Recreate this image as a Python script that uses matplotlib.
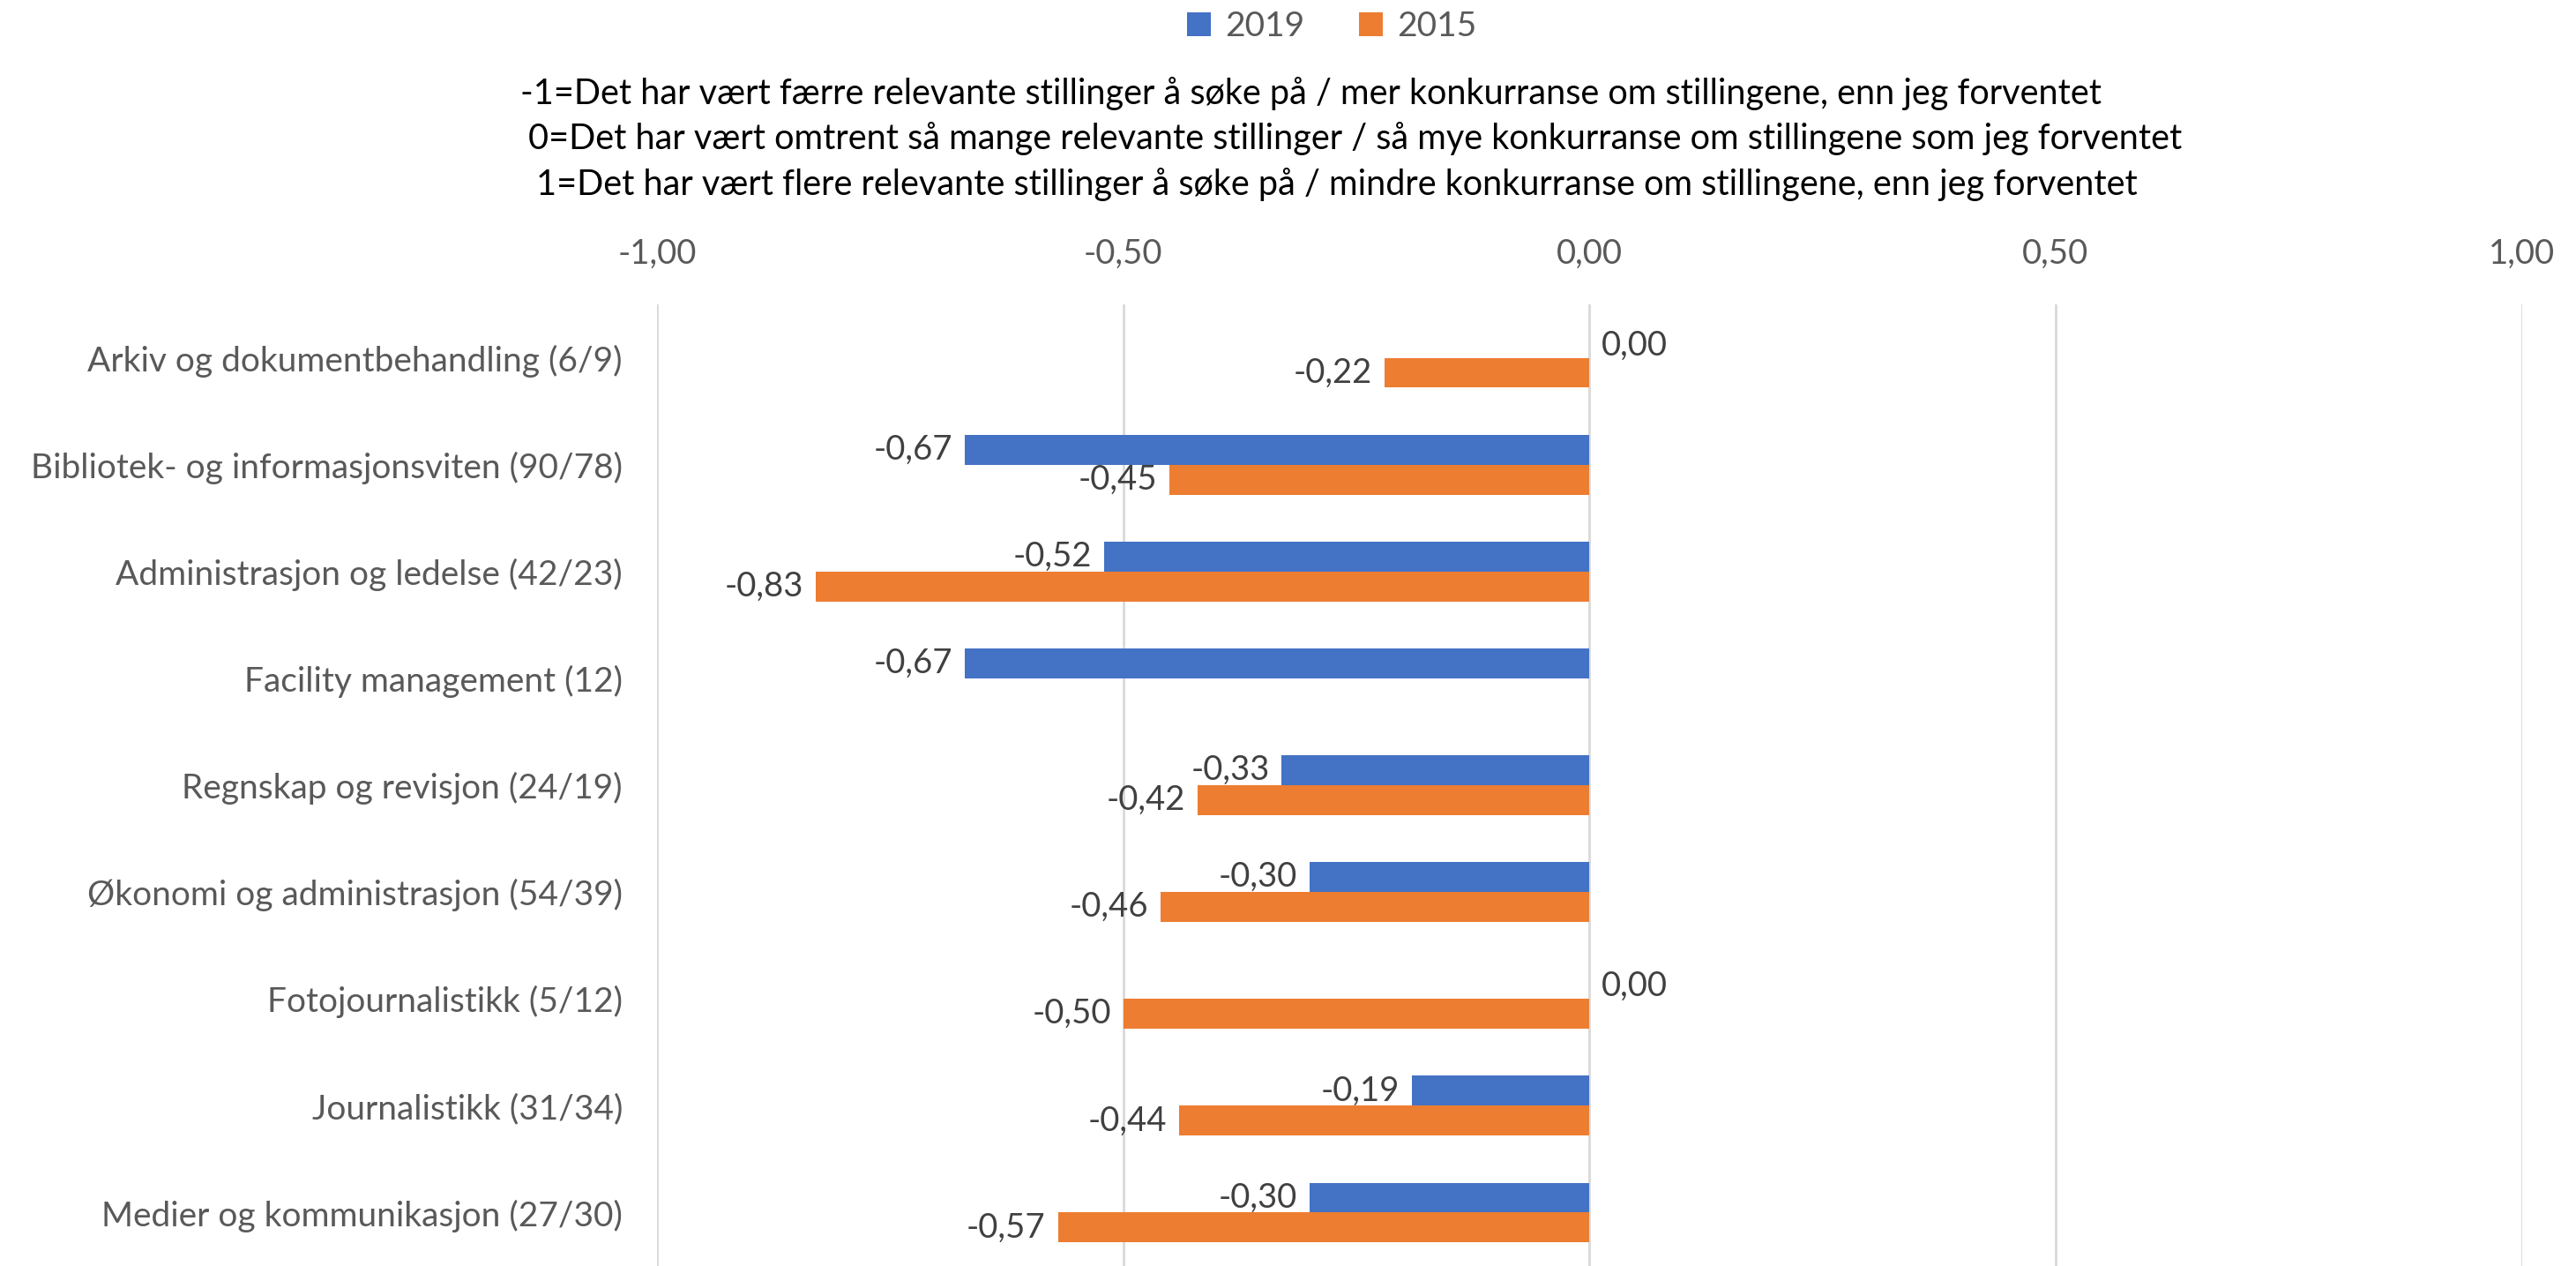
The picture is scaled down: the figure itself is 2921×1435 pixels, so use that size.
import numpy as np
import matplotlib
matplotlib.use("Agg")
import matplotlib.pyplot as plt

categories = [
    "Arkiv og dokumentbehandling (6/9)",
    "Bibliotek- og informasjonsviten (90/78)",
    "Administrasjon og ledelse (42/23)",
    "Facility management (12)",
    "Regnskap og revisjon (24/19)",
    "Økonomi og administrasjon (54/39)",
    "Fotojournalistikk (5/12)",
    "Journalistikk (31/34)",
    "Medier og kommunikasjon (27/30)",
]
values_2019 = [0.00, -0.67, -0.52, -0.67, -0.33, -0.30, 0.00, -0.19, -0.30]
values_2015 = [-0.22, -0.45, -0.83, np.nan, -0.42, -0.46, -0.50, -0.44, -0.57]
series_names = ["2019", "2015"]
xticks = [-1.0, -0.5, 0.0, 0.5, 1.0]
title_lines = [
    "-1=Det har vært færre relevante stillinger å søke på / mer konkurranse om stillingene, enn jeg forventet",
    " 0=Det har vært omtrent så mange relevante stillinger / så mye konkurranse om stillingene som jeg forventet",
    " 1=Det har vært flere relevante stillinger å søke på / mindre konkurranse om stillingene, enn jeg forventet",
]

BLUE = "#4472C4"
ORANGE = "#ED7D31"
TXT = "#595959"
LBL = "#404040"
FONT = "Lato"

plt.rcParams["font.family"] = [FONT, "DejaVu Sans"]

fig = plt.figure(figsize=(29.21, 14.35), dpi=100)
ax = fig.add_axes([0.255, 0.0, 0.724, 0.7596])

y = np.arange(len(categories))
h = 0.28
b1 = ax.barh(y - h / 2, values_2019, height=h, color=BLUE, label=series_names[0])
b2 = ax.barh(y + h / 2, values_2015, height=h, color=ORANGE, label=series_names[1])

ax.set_xlim(-1, 1)
ax.set_ylim(len(categories) - 0.5, -0.5)
ax.set_yticks(y)
ax.set_yticklabels(categories, fontsize=28, color=TXT)
ax.tick_params(axis="y", length=0, pad=28)
ax.xaxis.tick_top()
ax.set_xticks(xticks)
ax.set_xticklabels([f"{v:.2f}".replace(".", ",") for v in xticks], fontsize=27.5, color=TXT)
ax.tick_params(axis="x", length=0, pad=28)
ax.grid(axis="x", color="#D9D9D9", linewidth=2)
ax.set_axisbelow(True)
for s in ax.spines.values():
    s.set_visible(False)

def label(vals, offs):
    for yi, v in zip(y + offs, vals):
        if np.isnan(v):
            continue
        txt = f"{v:.2f}".replace(".", ",")
        if v < 0:
            ax.annotate(txt, (v, yi), xytext=(-10, 0), textcoords="offset points",
                        ha="right", va="center", fontsize=27.5, color=LBL)
        else:
            ax.annotate(txt, (v, yi), xytext=(10, -2), textcoords="offset points",
                        ha="left", va="center", fontsize=27.5, color=LBL)

label(values_2019, -h / 2)
label(values_2015, h / 2)

fig.legend(handles=[b1, b2], labels=series_names, loc="center", bbox_to_anchor=(0.517, 0.979),
           ncol=2, frameon=False, fontsize=28, handlelength=0.7, handleheight=0.7,
           columnspacing=1.6, handletextpad=0.4, labelcolor=TXT)

centers = [0.509, 0.526, 0.519]
ys = [1 - 106 / 1435, 1 - 157 / 1435, 1 - 209 / 1435]
for t, cx, cy in zip(title_lines, centers, ys):
    fig.text(cx, cy, t.strip(), ha="center", va="center", fontsize=28.5, color="black")

fig.savefig("out.png", dpi=100)
